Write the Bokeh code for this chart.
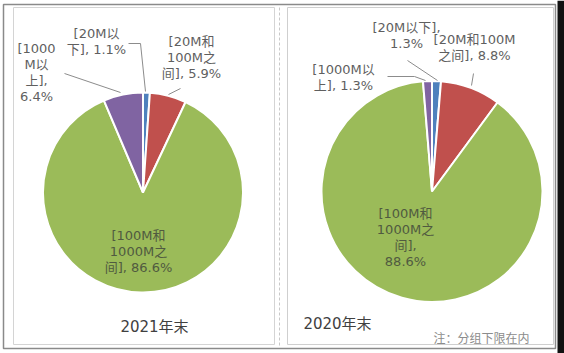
import math
from bokeh.plotting import figure
from bokeh.models import Range1d, ColumnDataSource
from bokeh.core.properties import value
from bokeh.embed import file_html
from bokeh.resources import INLINE

# ---------------- data ----------------
categories = ["[20M以下]", "[20M和100M之间]", "[100M和1000M之间]", "[1000M以上]"]
share_2021 = [1.1, 5.9, 86.6, 6.4]
share_2020 = [1.3, 8.8, 88.6, 1.3]
colors = ["#4F81BD", "#C0504D", "#9BBB59", "#8064A2"]
titles = ["2021年末", "2020年末"]
note = "注：分组下限在内"

# label line-wrapping (layout only)
wrap_2021 = ["[20M以\n下], {v}%", "[20M和\n100M之\n间], {v}%", "[100M和\n1000M之\n间], {v}%", "[1000\nM以\n上],\n{v}%"]
wrap_2020 = ["[20M以下],\n{v}%", "[20M和100M\n之间], {v}%", "[100M和\n1000M之\n间],\n{v}%", "[1000M以\n上], {v}%"]

W, H = 564, 353
FONT = value("DejaVu Sans, Noto Sans CJK SC")
CJK = value("Noto Sans CJK SC")


def Y(y):
    return H - y


p = figure(width=W, height=H, x_range=Range1d(0, W), y_range=Range1d(0, H),
           output_backend="svg", toolbar_location=None, min_border=0)
p.axis.visible = False
p.grid.visible = False
p.outline_line_color = None
p.background_fill_color = "white"
p.border_fill_color = "white"

# ---------- frames ----------
p.quad(left=[557], right=[W], bottom=[0], top=[H], fill_color="#111111", line_color=None)
p.quad(left=[3], right=[555], bottom=[Y(348)], top=[Y(4)], fill_alpha=0,
       line_color="#8a8a8a", line_width=1.5)
p.quad(left=[13], right=[274], bottom=[Y(344)], top=[Y(7)], fill_alpha=0,
       line_color="#d4d4d4", line_width=1)
p.quad(left=[287], right=[553], bottom=[Y(344)], top=[Y(7)], fill_alpha=0,
       line_color="#cfcfcf", line_width=1)
p.line([279, 279], [Y(7), Y(346)], line_color="#c8c8c8", line_dash="3 2", line_width=1)


def pie(cx, cy, r, vals):
    total = sum(vals)
    c = 0.0
    starts, ends = [], []
    for v in vals:
        starts.append(math.pi / 2 - 2 * math.pi * c / total)
        c += v
        ends.append(math.pi / 2 - 2 * math.pi * c / total)
    src = ColumnDataSource(dict(start=starts, end=ends, color=colors))
    p.wedge(x=cx, y=Y(cy), radius=r, start_angle="start", end_angle="end",
            direction="clock", fill_color="color", line_color="white",
            line_width=2, source=src)


pie(142.5, 192, 100, share_2021)
pie(431.5, 191, 110.5, share_2020)


def label(x, y, txt, color="#5f5f5f", size="13px", font=FONT, lh=16.3):
    lines = txt.split("\n")
    n = len(lines)
    y0 = y - (n - 1) * lh / 2
    for i, ln in enumerate(lines):
        p.text(x=[x], y=[Y(y0 + i * lh)], text=[ln], text_align="center",
               text_baseline="middle", text_font=font, text_font_size=size,
               text_color=color)


def leader(xs, ys):
    p.line(xs, [Y(v) for v in ys], line_color="#8c8c8c", line_width=1)


# ---------- 2021 labels ----------
l21 = [w.format(v=s) for w, s in zip(wrap_2021, share_2021)]
label(96, 41, l21[0])
label(191, 57, l21[1])
label(138, 251, l21[2], color="#505a40")
label(36, 72, l21[3])
leader([128, 140, 145], [43, 43, 91])
leader([168, 180], [94, 88])
leader([64, 120], [73, 92])

# ---------- 2020 labels ----------
l20 = [w.format(v=s) for w, s in zip(wrap_2020, share_2020)]
label(406, 35, l20[0])
label(474, 47, l20[1])
label(405, 237, l20[2], color="#505a40")
label(343, 77, l20[3])
leader([407, 437], [60, 80])
leader([473, 471], [73, 85])
leader([387, 414, 425], [76, 76, 80])

# ---------- titles / note ----------
label(154, 326, titles[0], color="#404040", size="15px")
label(337, 323, titles[1], color="#404040", size="15px")
label(481, 337, note, color="#8c8c8c", size="12px", font=CJK)

open("out.html", "w").write(file_html(p, INLINE))
